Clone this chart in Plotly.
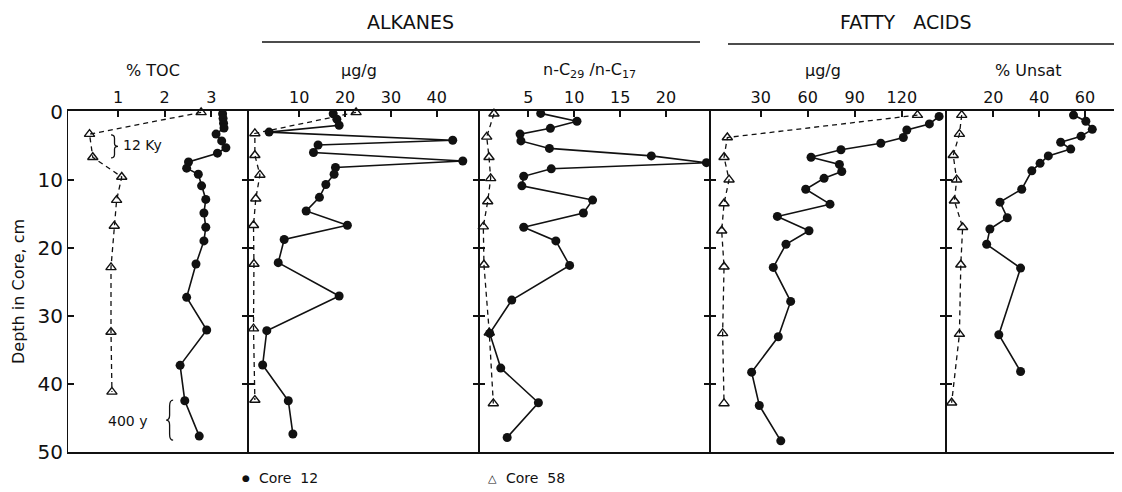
import plotly.graph_objects as go

# ---------------- data ----------------
# Panel 1: % TOC
toc_c12_depth = [0.3, 1.0, 1.7, 2.4, 3.3, 4.3, 5.3, 6.1, 7.4, 8.3, 9.2, 10.9, 12.9, 14.9, 17.0, 19.0, 22.4, 27.3, 32.1, 37.3, 42.5, 47.7]
toc_c12 = [3.24, 3.25, 3.26, 3.27, 3.10, 3.22, 3.31, 3.13, 2.51, 2.47, 2.72, 2.79, 2.88, 2.84, 2.88, 2.84, 2.67, 2.47, 2.90, 2.33, 2.43, 2.74]
toc_c58_depth = [0.1, 3.3, 6.7, 9.6, 13.0, 16.8, 22.9, 32.4, 41.2]
toc_c58 = [2.78, 0.39, 0.46, 1.08, 0.97, 0.92, 0.85, 0.85, 0.87]

# Panel 2: alkanes ug/g
alk_c12_depth = [0.3, 1.1, 2.0, 3.0, 4.2, 4.9, 6.0, 7.25, 8.2, 9.2, 10.7, 12.6, 14.6, 16.7, 18.8, 22.2, 27.1, 32.2, 37.25, 42.5, 47.4]
alk_c12 = [17.4, 18.2, 18.7, 3.4, 43.5, 14.1, 13.1, 45.7, 17.9, 17.6, 15.8, 14.4, 11.5, 20.5, 6.7, 5.4, 18.7, 2.9, 2.0, 7.6, 8.6]
alk_c58_depth = [0.1, 3.2, 6.4, 9.3, 12.8, 16.7, 22.4, 31.9, 42.4]
alk_c58 = [22.4, 0.3, 0.3, 1.4, 0.5, 0.0, 0.1, 0.0, 0.3]

# Panel 3: n-C29 / n-C17
rat_c12_depth = [0.25, 1.4, 2.45, 3.3, 4.3, 5.4, 6.5, 7.5, 8.4, 9.5, 10.9, 13.0, 14.9, 17.0, 19.0, 22.6, 27.7, 32.6, 37.7, 42.8, 47.9]
rat_c12 = [6.35, 10.3, 7.4, 4.1, 4.2, 7.3, 18.4, 24.4, 7.5, 4.5, 4.3, 12.0, 11.0, 4.5, 8.0, 9.5, 3.2, 0.8, 2.0, 6.1, 2.7]
rat_c58_depth = [0.3, 3.7, 6.7, 9.8, 13.2, 16.9, 22.5, 32.5, 42.9]
rat_c58 = [1.26, 0.47, 0.72, 0.9, 0.58, 0.1, 0.17, 0.75, 1.19]

# Panel 4: fatty acids ug/g
fa_c12_depth = [0.7, 1.8, 2.7, 3.8, 4.65, 5.6, 6.7, 7.75, 8.8, 9.8, 11.4, 13.6, 15.4, 17.5, 19.5, 22.9, 27.9, 33.1, 38.3, 43.2, 48.4]
fa_c12 = [143.8, 137.6, 123.2, 121.0, 106.6, 81.2, 62.1, 80.2, 81.7, 70.4, 58.7, 74.2, 40.6, 60.8, 46.1, 38.0, 49.1, 41.2, 24.2, 29.1, 42.8]
fa_c58_depth = [0.5, 3.8, 6.7, 10.0, 13.5, 17.5, 22.8, 32.6, 42.9]
fa_c58 = [130.0, 8.7, 6.6, 9.8, 6.6, 5.1, 6.6, 5.7, 6.6]

# Panel 5: % unsaturated
uns_c12_depth = [0.5, 1.4, 2.6, 3.6, 4.5, 5.5, 6.5, 7.6, 8.7, 11.4, 13.3, 15.6, 17.25, 19.5, 23.0, 32.8, 38.2]
uns_c12 = [55.0, 60.4, 63.2, 58.3, 49.4, 53.8, 44.0, 40.4, 36.8, 32.4, 22.9, 26.1, 18.5, 17.1, 31.9, 22.4, 31.9]
uns_c58_depth = [0.5, 3.3, 6.4, 10.0, 13.1, 17.0, 22.5, 32.7, 42.8]
uns_c58 = [6.2, 5.2, 2.5, 4.0, 3.0, 6.6, 5.8, 5.2, 1.8]

panel_titles = ["% TOC", "µg/g", "n-C<sub>29</sub> /n-C<sub>17</sub>", "µg/g", "% Unsat"]
panel_ticks = [[1, 2, 3], [10, 20, 30, 40], [5, 10, 15, 20], [30, 60, 90, 120], [20, 40, 60]]
depth_ticks = [0, 10, 20, 30, 40, 50]
legend_labels = ["Core  12", "Core  58"]
group_labels = ["ALKANES", "FATTY   ACIDS"]

# ---------------- layout geometry ----------------
# The page body has an 8px margin, so the figure is shrunk by that and all
# page-pixel positions below are converted accordingly.
OFF = 8
PAGE_W, PAGE_H = 1122, 492
W, H = PAGE_W - OFF, PAGE_H - OFF
PLOT_L, PLOT_R, PLOT_T, PLOT_B = 68, 1120, 111, 452     # page pixels
ML, MR, MT, MB = PLOT_L - OFF, W - (PLOT_R - OFF), PLOT_T - OFF, H - (PLOT_B - OFF)
PW = W - ML - MR
PH = H - MT - MB
edges_px = [68, 248, 479, 710, 946, 1120]
x_ranges = [[-0.071, 3.784], [-1.2, 49.24], [-0.37, 24.79], [-2.36, 148.2], [-0.66, 75.3]]
y_range = [50.04, -0.1]

def px_x(px):
    return (px - PLOT_L) / PW

def px_y(py):
    return (PLOT_B - py) / PH

FONT = "DejaVu Sans"
BLACK = "#111111"

fig = go.Figure()

panels = [
    (toc_c12_depth, toc_c12, toc_c58_depth, toc_c58),
    (alk_c12_depth, alk_c12, alk_c58_depth, alk_c58),
    (rat_c12_depth, rat_c12, rat_c58_depth, rat_c58),
    (fa_c12_depth, fa_c12, fa_c58_depth, fa_c58),
    (uns_c12_depth, uns_c12, uns_c58_depth, uns_c58),
]

for i, (d12, v12, d58, v58) in enumerate(panels):
    sfx = "" if i == 0 else str(i + 1)
    fig.add_trace(go.Scatter(
        x=v58, y=d58, xaxis="x" + sfx, yaxis="y" + sfx, mode="lines+markers",
        line=dict(color=BLACK, width=1.3, dash="5px,4px"),
        marker=dict(symbol="triangle-up-open", size=9, color=BLACK, line=dict(width=1.4, color=BLACK)),
        showlegend=False, cliponaxis=False))
    fig.add_trace(go.Scatter(
        x=v12, y=d12, xaxis="x" + sfx, yaxis="y" + sfx, mode="lines+markers",
        line=dict(color=BLACK, width=1.6),
        marker=dict(symbol="circle", size=9, color=BLACK),
        showlegend=False, cliponaxis=False))

layout = dict(
    width=W, height=H,
    margin=dict(l=ML, r=MR, t=MT, b=MB, autoexpand=False),
    paper_bgcolor="white", plot_bgcolor="white",
    font=dict(family=FONT, color=BLACK, size=16),
    showlegend=False,
)

for i in range(5):
    sfx = "" if i == 0 else str(i + 1)
    dom = [px_x(edges_px[i]), px_x(edges_px[i + 1])]
    layout["xaxis" + sfx] = dict(
        domain=dom, range=x_ranges[i], side="top", anchor="y" + sfx,
        tickmode="array", tickvals=panel_ticks[i], ticktext=[str(t) for t in panel_ticks[i]],
        ticks="inside", ticklen=6, tickwidth=1.5, tickcolor=BLACK,
        showline=True, linecolor=BLACK, linewidth=2, mirror=True,
        showgrid=False, zeroline=False, automargin=False,
        tickfont=dict(size=16, family=FONT),
    )
    ydict = dict(
        domain=[0, 1], range=y_range, anchor="x" + sfx,
        tickmode="array", tickvals=depth_ticks,
        showline=True, linecolor=BLACK, linewidth=1,
        showgrid=False, zeroline=False, automargin=False,
        ticks="inside", ticklen=6, tickwidth=1.5, tickcolor=BLACK, mirror="ticks",
    )
    if i == 0:
        ydict.update(showticklabels=True, tickfont=dict(size=20, family=FONT))
    else:
        ydict.update(showticklabels=False, matches="y")
    layout["yaxis" + sfx] = ydict

fig.update_layout(**layout)

# panel titles
title_px_y = 70
for i in range(5):
    cx = (edges_px[i] + edges_px[i + 1]) / 2
    fig.add_annotation(text=panel_titles[i], xref="paper", yref="paper",
                       x=px_x(cx - 5), y=px_y(title_px_y), showarrow=False,
                       font=dict(size=16, family=FONT), xanchor="center", yanchor="middle")

# group headers with rules
fig.add_annotation(text=group_labels[0], xref="paper", yref="paper", x=px_x(410), y=px_y(22),
                   showarrow=False, xanchor="center", yanchor="middle", font=dict(size=19, family=FONT))
fig.add_shape(type="line", xref="paper", yref="paper", x0=px_x(262), x1=px_x(700),
              y0=px_y(42), y1=px_y(42), line=dict(color=BLACK, width=1.6))
fig.add_annotation(text=group_labels[1], xref="paper", yref="paper", x=px_x(906), y=px_y(22),
                   showarrow=False, xanchor="center", yanchor="middle", font=dict(size=19, family=FONT))
fig.add_shape(type="line", xref="paper", yref="paper", x0=px_x(728), x1=px_x(1117),
              y0=px_y(44), y1=px_y(44), line=dict(color=BLACK, width=1.6))

# y-axis title
fig.add_annotation(text="Depth in Core, cm", xref="paper", yref="paper", x=px_x(18), y=px_y(292),
                   showarrow=False, textangle=-90, xanchor="center", yanchor="middle",
                   font=dict(size=16, family=FONT))

# braces in panel 1
def brace(xe, xt, ya, yb):
    xs = (xe + xt) / 2
    h = yb - ya
    ym = (ya + yb) / 2
    return (f"M {xe},{ya} Q {xs},{ya} {xs},{ya + h*0.15} L {xs},{ym - h*0.12} "
            f"Q {xs},{ym} {xt},{ym} Q {xs},{ym} {xs},{ym + h*0.12} L {xs},{yb - h*0.15} "
            f"Q {xs},{yb} {xe},{yb}")

fig.add_shape(type="path", xref="x", yref="y", path=brace(0.85, 1.0, 3.4, 6.8),
              line=dict(color=BLACK, width=1.3))
fig.add_annotation(text="12 Ky", xref="x", yref="y", x=1.06, y=4.9, showarrow=False,
                   xanchor="left", yanchor="middle", font=dict(size=14, family=FONT))
fig.add_shape(type="path", xref="x", yref="y", path=brace(2.18, 2.03, 42.4, 48.3),
              line=dict(color=BLACK, width=1.3))
fig.add_annotation(text="400 y", xref="x", yref="y", x=1.66, y=45.5, showarrow=False,
                   xanchor="right", yanchor="middle", font=dict(size=14, family=FONT))

# legend (as text)
leg_y = px_y(478)
fig.add_annotation(text="●", xref="paper", yref="paper", x=px_x(246), y=leg_y, showarrow=False,
                   xanchor="center", yanchor="middle", font=dict(size=9, family=FONT))
fig.add_annotation(text=legend_labels[0], xref="paper", yref="paper", x=px_x(257), y=leg_y,
                   showarrow=False, xanchor="left", yanchor="middle", font=dict(size=14, family=FONT))
fig.add_annotation(text="△", xref="paper", yref="paper", x=px_x(492), y=leg_y, showarrow=False,
                   xanchor="center", yanchor="middle", font=dict(size=11, family=FONT))
fig.add_annotation(text=legend_labels[1], xref="paper", yref="paper", x=px_x(504), y=leg_y,
                   showarrow=False, xanchor="left", yanchor="middle", font=dict(size=14, family=FONT))

fig.write_html("out.html")
